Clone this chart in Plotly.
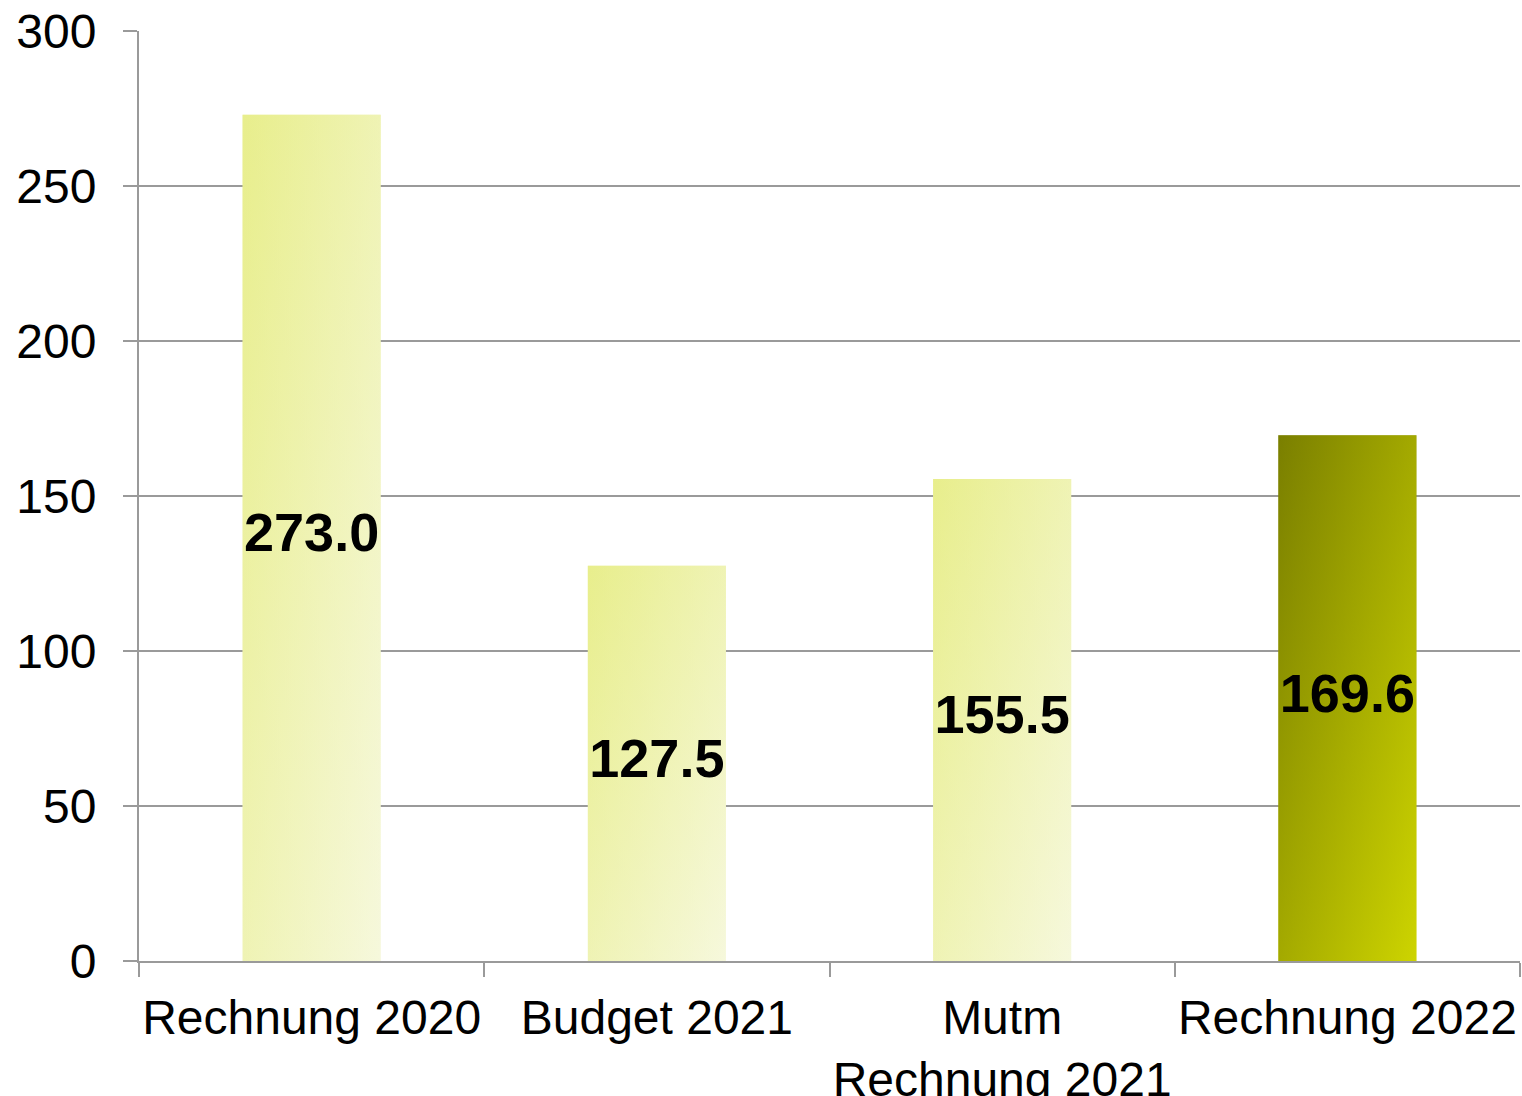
import plotly.graph_objects as go

categories = ["Rechnung 2020", "Budget 2021", "Mutm<br>Rechnung 2021", "Rechnung 2022"]
values = [273.0, 127.5, 155.5, 169.6]
labels = ["273.0", "127.5", "155.5", "169.6"]
y_ticks = [0, 50, 100, 150, 200, 250, 300]

# gradient colours: (top-left, bottom-right)
light = ((232, 238, 140), (246, 248, 220))
dark = ((122, 127, 0), (205, 212, 0))
bar_styles = [light, light, light, dark]

FONT = "Liberation Sans, Arial, sans-serif"
GRID = "#9a9a9a"
half_w = 0.2

def rgb(c, a=1.0):
    return f"rgba({c[0]},{c[1]},{c[2]},{a})"

fig = go.Figure()
for i, (v, (tl, br)) in enumerate(zip(values, bar_styles)):
    xs = [i - half_w, i + half_w, i + half_w, i - half_w, i - half_w]
    ys = [0, 0, v, v, 0]
    # base: vertical gradient (bottom bright, top dark)
    fig.add_trace(go.Scatter(
        x=xs, y=ys, mode="lines", fill="toself", line=dict(width=0),
        fillgradient=dict(type="vertical", colorscale=[[0, rgb(br)], [1, rgb(tl)]]),
        hoverinfo="skip", showlegend=False))
    # overlay: horizontal gradient, half transparent -> diagonal look
    fig.add_trace(go.Scatter(
        x=xs, y=ys, mode="lines", fill="toself", line=dict(width=0),
        fillgradient=dict(type="horizontal", colorscale=[[0, rgb(tl, 0.5)], [1, rgb(br, 0.5)]]),
        hoverinfo="skip", showlegend=False))

fig.add_trace(go.Scatter(
    x=list(range(len(values))), y=[v / 2 for v in values], mode="text",
    text=labels, textposition="middle center",
    textfont=dict(family=FONT, size=54, color="black", weight="bold"),
    hoverinfo="skip", showlegend=False))

fig.update_layout(
    width=1522, height=1096,
    margin=dict(l=139, r=2, t=31, b=135),
    paper_bgcolor="white", plot_bgcolor="white",
    font=dict(family=FONT, size=48, color="black"),
    hovermode=False, showlegend=False,
    xaxis=dict(
        range=[-0.5, len(values) - 0.5], automargin=False,
        tickvals=list(range(len(values))), ticktext=categories,
        ticks="", showgrid=False, zeroline=False,
        showline=True, linecolor=GRID, linewidth=2,
        ticklabelstandoff=13,
        tickfont=dict(size=48, family=FONT, color="black"),
        minor=dict(tickvals=[k - 0.5 for k in range(len(values) + 1)],
                   ticks="outside", ticklen=14, tickwidth=2, tickcolor=GRID,
                   showgrid=False),
    ),
    yaxis=dict(
        range=[0, 300], tickvals=y_ticks, automargin=False,
        showgrid=True, gridcolor=GRID, gridwidth=2,
        zeroline=False, showline=True, linecolor=GRID, linewidth=2,
        ticks="outside", ticklen=14, tickwidth=2, tickcolor=GRID,
        ticklabelstandoff=17,
        tickfont=dict(size=48, family=FONT, color="black"),
    ),
)

fig.write_html("out.html", config={"displayModeBar": False},
               post_script="document.body.style.margin='0';document.body.style.overflow='hidden';")
